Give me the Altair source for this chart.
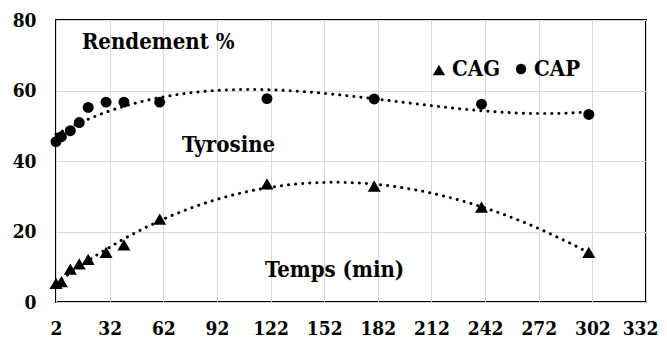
import altair as alt
import pandas as pd

# ---- data ----
times = [2, 5, 10, 15, 20, 30, 40, 60, 120, 180, 240, 300]
cag = [5.3, 5.8, 9.3, 10.8, 12.1, 14.1, 16.2, 23.5, 33.5, 32.9, 26.9, 14.1]
cap = [45.5, 46.9, 48.6, 50.9, 55.2, 56.7, 56.7, 56.7, 57.7, 57.6, 56.1, 53.2]
series_names = ["CAG", "CAP"]
x_ticks = [2, 32, 62, 92, 122, 152, 182, 212, 242, 272, 302, 332]
y_ticks = [0, 20, 40, 60, 80]

# annotations (data coordinates)
ann_text = ["Rendement %", "Tyrosine", "Temps (min)"]
ann_t = [16.5, 72.5, 118.9]
ann_v = [71.8, 42.6, 7.2]

leg_text = ["CAG", "CAP"]
leg_text_t = [223.5, 269.4]
leg_text_v = [64.0, 64.0]
leg_mark_t = [216.2, 262.1]
leg_mark_v = [65.8, 66.1]

rows = []
for t, a, p in zip(times, cag, cap):
    rows.append({"t": t, "v": a, "series": "CAG"})
    rows.append({"t": t, "v": p, "series": "CAP"})
df = pd.DataFrame(rows)

ann_df = pd.DataFrame({"t": ann_t, "v": ann_v, "label": ann_text})
leg_text_df = pd.DataFrame({"t": leg_text_t, "v": leg_text_v, "label": leg_text})
leg_mark_df = pd.DataFrame({"t": leg_mark_t, "v": leg_mark_v, "series": series_names})

FONT = "DejaVu Serif Condensed"

xs = alt.Scale(domain=[2, 332], nice=False, zero=False)
ys = alt.Scale(domain=[0, 80], nice=False)

X = alt.X("t:Q", scale=xs, axis=alt.Axis(
    values=x_ticks, title=None,
    labelOffset={"condition": {"test": "datum.value == 332", "value": -6}, "value": 0},
))
Y = alt.Y("v:Q", scale=ys, axis=alt.Axis(values=y_ticks, title=None))

shape = alt.Shape("series:N", scale=alt.Scale(domain=series_names, range=["triangle-up", "circle"]), legend=None)
size = alt.Size("series:N", scale=alt.Scale(domain=series_names, range=[170, 120]), legend=None)

trend = alt.Chart(df).transform_regression(
    "t", "v", groupby=["series"], method="poly", order=3
).mark_line(
    color="black", strokeWidth=3, strokeDash=[0.1, 7], strokeCap="round"
).encode(x=X, y=Y, detail="series:N")

points = alt.Chart(df).mark_point(filled=True, color="black", opacity=1).encode(
    x=X, y=Y, shape=shape, size=size
)

ann = alt.Chart(ann_df).mark_text(
    font=FONT, fontWeight="bold", fontSize=22, align="left", baseline="alphabetic", color="black"
).encode(x=X, y=Y, text="label:N")

leg_marks = alt.Chart(leg_mark_df).mark_point(filled=True, color="black", opacity=1).encode(
    x=X, y=Y, shape=shape, size=alt.Size("series:N", scale=alt.Scale(domain=series_names, range=[150, 110]), legend=None)
)

leg_txt = alt.Chart(leg_text_df).mark_text(
    font=FONT, fontWeight="bold", fontSize=22, align="left", baseline="alphabetic", color="black"
).encode(x=X, y=Y, text="label:N")

chart = alt.layer(trend, points, ann, leg_marks, leg_txt).resolve_scale(
    shape="independent", size="independent"
).properties(
    width=590, height=282,
    autosize=alt.AutoSizeParams(type="none"),
    padding={"left": 48, "top": 12, "right": 13, "bottom": 38},
    background="white",
).configure_view(
    stroke="black", strokeWidth=2
).configure_axis(
    grid=True, gridColor="#d9d9d9", gridWidth=1,
    domain=False, ticks=False, labelOverlap=False, labelBound=False, labelFlush=False,
    labelFont=FONT, labelFontWeight="bold", labelFontSize=19, labelColor="black",
).configure_axisX(
    labelPadding=17
).configure_axisY(
    labelPadding=20
)

chart.save("out.html", embed_options={"renderer": "svg", "actions": False})
